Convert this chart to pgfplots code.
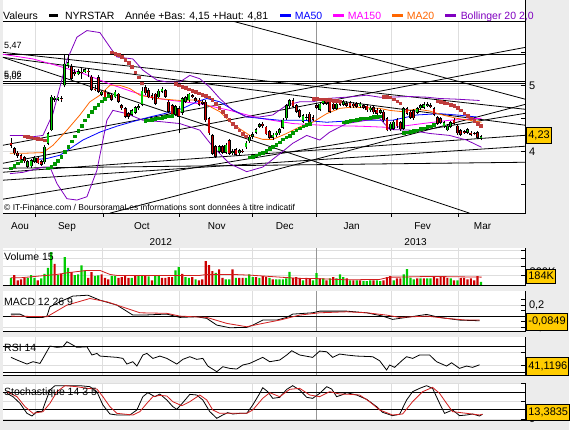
\documentclass[border=0pt]{standalone}
\usepackage{fontspec}
\setmainfont{Liberation Sans}
\usepackage{pgfplots}
\pgfplotsset{compat=1.18}
\usepackage{pgfplotstable}
\newcommand\fs[1]{\fontsize{#1}{#1}\selectfont}
\definecolor{bg}{RGB}{236,236,236}
\definecolor{gridgray}{RGB}{222,222,222}
\definecolor{yeargray}{RGB}{150,150,150}
\definecolor{cgreen}{RGB}{0,204,0}
\definecolor{cred}{RGB}{204,0,0}
\definecolor{sargreen}{RGB}{0,150,0}
\definecolor{sarred}{RGB}{190,60,60}
\definecolor{ma50}{RGB}{0,0,255}
\definecolor{ma150}{RGB}{255,0,255}
\definecolor{ma20}{RGB}{255,102,0}
\definecolor{boll}{RGB}{128,0,192}
\definecolor{gold}{RGB}{255,204,0}
\definecolor{sigred}{RGB}{210,30,30}

\pgfplotstableread{
i o h l c
0 4.13 4.20 4.05 4.08
1 4.05 4.07 3.94 3.97
2 3.98 4.00 3.90 3.93
3 3.94 3.96 3.86 3.88
4 3.91 3.93 3.82 3.85
5 3.76 3.87 3.74 3.85
6 3.77 3.88 3.75 3.86
7 3.84 3.93 3.82 3.90
8 3.90 3.92 3.80 3.82
9 3.85 3.87 3.77 3.79
10 3.83 4.09 3.81 4.07
11 4.11 4.29 4.09 4.27
12 4.32 4.86 4.30 4.83
13 4.78 4.84 4.75 4.81
14 4.78 4.83 4.76 4.81
15 4.80 4.84 4.75 4.79
16 5.00 5.48 4.97 5.33
17 5.30 5.46 5.27 5.35
18 5.29 5.33 5.08 5.10
19 5.20 5.25 5.14 5.17
20 5.17 5.24 5.15 5.21
21 5.20 5.28 5.10 5.19
22 5.20 5.26 5.18 5.24
23 5.22 5.25 5.12 5.21
24 5.13 5.15 4.91 4.93
25 4.95 5.00 4.91 4.93
26 5.12 5.16 4.88 4.90
27 4.86 4.92 4.84 4.90
28 4.90 4.93 4.80 4.82
29 4.83 4.90 4.81 4.88
30 4.86 4.89 4.76 4.78
31 4.82 4.93 4.80 4.90
32 4.87 4.89 4.73 4.75
33 4.70 4.72 4.63 4.65
34 4.65 4.67 4.50 4.52
35 4.58 4.60 4.49 4.52
36 4.55 4.64 4.53 4.62
37 4.58 4.69 4.56 4.67
38 4.65 4.71 4.63 4.68
39 4.70 4.98 4.68 4.92
40 4.97 5.00 4.86 4.88
41 4.93 4.96 4.80 4.82
42 4.85 4.88 4.78 4.80
43 4.87 4.89 4.70 4.72
44 4.82 4.94 4.80 4.92
45 4.90 4.98 4.88 4.95
46 4.93 4.95 4.81 4.83
47 4.75 4.77 4.58 4.60
48 4.70 4.72 4.53 4.55
49 4.55 4.70 4.53 4.68
50 4.65 4.68 4.27 4.52
51 4.58 4.82 4.55 4.80
52 4.75 4.84 4.73 4.82
53 4.77 4.89 4.75 4.87
54 4.85 4.87 4.80 4.82
55 4.80 4.82 4.74 4.76
56 4.78 4.80 4.68 4.70
57 4.75 4.77 4.70 4.72
58 4.75 4.77 4.45 4.47
59 4.50 4.52 4.25 4.27
60 4.24 4.26 3.94 3.96
61 4.08 4.10 3.90 3.92
62 3.99 4.10 3.97 4.08
63 4.08 4.10 3.96 3.98
64 3.98 4.12 3.96 4.10
65 4.17 4.19 3.94 3.96
66 3.97 4.03 3.95 4.00
67 4.03 4.05 3.93 3.95
68 3.97 4.04 3.95 4.02
69 4.00 4.03 3.97 3.99
70 4.06 4.15 4.04 4.13
71 4.15 4.24 4.13 4.22
72 4.22 4.29 4.19 4.26
73 4.28 4.35 4.26 4.33
74 4.37 4.43 4.35 4.41
75 4.42 4.44 4.36 4.38
76 4.37 4.39 4.24 4.26
77 4.30 4.32 4.18 4.20
78 4.20 4.27 4.17 4.25
79 4.24 4.30 4.22 4.28
80 4.27 4.35 4.25 4.33
81 4.36 4.50 4.34 4.48
82 4.50 4.72 4.48 4.70
83 4.68 4.79 4.66 4.77
84 4.77 4.80 4.65 4.67
85 4.70 4.72 4.58 4.60
86 4.62 4.64 4.50 4.52
87 4.45 4.57 4.43 4.55
88 4.50 4.56 4.48 4.52
89 4.57 4.60 4.42 4.44
90 4.52 4.55 4.46 4.48
91 4.70 4.73 4.64 4.66
92 4.63 4.74 4.61 4.72
93 4.72 4.80 4.70 4.77
94 4.77 4.80 4.70 4.72
95 4.77 4.79 4.58 4.60
96 4.72 4.74 4.62 4.64
97 4.64 4.74 4.62 4.72
98 4.75 4.77 4.68 4.70
99 4.70 4.77 4.68 4.75
100 4.73 4.76 4.67 4.69
101 4.74 4.76 4.65 4.67
102 4.72 4.74 4.66 4.68
103 4.73 4.75 4.65 4.67
104 4.68 4.74 4.66 4.72
105 4.70 4.72 4.64 4.66
106 4.69 4.71 4.60 4.62
107 4.62 4.68 4.60 4.66
108 4.67 4.69 4.57 4.59
109 4.63 4.65 4.55 4.57
110 4.58 4.64 4.56 4.62
111 4.60 4.62 4.45 4.47
112 4.50 4.52 4.30 4.32
113 4.33 4.44 4.31 4.42
114 4.34 4.47 4.32 4.45
115 4.48 4.50 4.36 4.38
116 4.44 4.46 4.31 4.33
117 4.34 4.67 4.32 4.65
118 4.65 4.67 4.55 4.57
119 4.60 4.62 4.49 4.51
120 4.62 4.64 4.48 4.50
121 4.58 4.67 4.56 4.65
122 4.65 4.72 4.63 4.70
123 4.66 4.75 4.64 4.71
124 4.69 4.74 4.67 4.71
125 4.70 4.73 4.65 4.67
126 4.65 4.67 4.53 4.55
127 4.52 4.54 4.40 4.42
128 4.50 4.52 4.41 4.43
129 4.38 4.46 4.36 4.44
130 4.32 4.41 4.30 4.39
131 4.37 4.46 4.35 4.44
132 4.48 4.50 4.40 4.42
133 4.39 4.41 4.25 4.27
134 4.32 4.34 4.23 4.25
135 4.30 4.32 4.26 4.28
136 4.28 4.35 4.26 4.33
137 4.28 4.30 4.23 4.25
138 4.27 4.29 4.24 4.26
139 4.29 4.31 4.18 4.20
140 4.19 4.25 4.17 4.23
}\candles

\pgfplotstableread{
i v g
0 7.3 1
1 10 0
2 4.7 0
3 5.7 0
4 7.3 0
5 7.3 1
6 10 1
7 7.3 1
8 4.7 0
9 6.7 1
10 11.3 1
11 17.3 1
12 33 1
13 21.3 0
14 10 1
15 11.3 0
16 28 1
17 17.3 1
18 13 0
19 10 1
20 10.7 1
21 19.7 1
22 14.7 1
23 7.3 0
24 13 0
25 9.3 1
26 9.7 1
27 10.7 0
28 7.3 0
29 5.7 0
30 9.3 1
31 9.3 1
32 7.3 0
33 8 0
34 9.3 0
35 7.3 0
36 7.3 1
37 9.3 0
38 9.3 1
39 9.3 1
40 9.3 0
41 8.7 1
42 4.7 0
43 9.3 1
44 10 1
45 7.3 0
46 7.3 0
47 8 0
48 8 0
49 14.7 1
50 18 1
51 11.3 0
52 8 1
53 7.3 1
54 8 0
55 5.7 1
56 4.7 0
57 5.7 0
58 24 0
59 20 0
60 14 0
61 12.3 1
62 15.7 0
63 7.3 0
64 5.7 1
65 5.7 1
66 15.7 0
67 7.3 1
68 7.3 0
69 7.3 0
70 7.3 1
71 10.7 1
72 8 1
73 8 0
74 7.3 1
75 9 0
76 8 0
77 7.3 1
78 5.7 0
79 5.7 1
80 5.7 1
81 5.7 1
82 6.7 1
83 13.3 1
84 7.3 0
85 8 0
86 7.3 0
87 4.7 1
88 7.3 0
89 6.7 0
90 4.7 1
91 12 1
92 6.7 0
93 6.7 1
94 4.7 0
95 6.7 1
96 8 0
97 6.7 1
98 10.7 1
99 8 1
100 6.7 0
101 4.7 1
102 4.7 0
103 4.7 1
104 4.7 0
105 4 1
106 4 1
107 4.7 1
108 4.7 0
109 4.7 1
110 4 1
111 4.7 0
112 8 0
113 9 0
114 4.7 1
115 6.7 0
116 6.7 0
117 10.7 1
118 16 1
119 7.3 1
120 5.7 1
121 6.7 0
122 6.7 1
123 6.7 0
124 6.7 1
125 6.7 1
126 8 0
127 6.7 0
128 8.7 0
129 8 0
130 7.3 0
131 6.7 1
132 4.7 0
133 4.7 1
134 7.3 0
135 7.3 0
136 5.7 0
137 6.7 0
138 4.7 0
139 9 0
140 3.3 1
}\vol

\pgfplotstableread{
i p
0 3.74
1 3.78
2 3.82
3 3.85
11 3.74
12 3.77
13 3.81
14 3.86
15 3.92
16 3.99
17 4.07
18 4.15
19 4.23
20 4.31
21 4.39
22 4.47
23 4.54
24 4.60
25 4.66
26 4.71
27 4.76
28 4.80
29 4.84
40 4.46
41 4.47
42 4.48
43 4.49
44 4.50
45 4.51
46 4.52
47 4.53
48 4.54
71 3.91
72 3.92
73 3.94
74 3.96
75 3.98
76 4.01
77 4.04
78 4.07
79 4.10
80 4.14
81 4.18
82 4.21
83 4.24
84 4.28
85 4.32
86 4.35
87 4.38
88 4.40
89 4.42
99 4.44
100 4.45
101 4.46
102 4.47
103 4.48
104 4.49
105 4.50
106 4.50
107 4.51
108 4.52
109 4.52
110 4.53
117 4.28
118 4.29
119 4.30
120 4.31
121 4.32
122 4.34
123 4.35
124 4.37
125 4.38
126 4.40
}\sarg

\pgfplotstableread{
i p
4 4.23
5 4.22
6 4.21
7 4.20
8 4.19
9 4.18
10 4.17
30 5.50
31 5.48
32 5.46
33 5.43
34 5.39
35 5.34
36 5.28
37 5.20
38 5.12
39 5.03
49 5.02
50 5.00
51 4.98
52 4.96
53 4.94
54 4.92
55 4.90
56 4.88
57 4.86
58 4.84
59 4.82
60 4.78
61 4.72
62 4.66
63 4.60
64 4.54
65 4.48
66 4.42
67 4.37
68 4.32
69 4.27
70 4.23
90 4.80
91 4.80
92 4.79
93 4.79
94 4.78
95 4.78
96 4.77
97 4.77
98 4.76
111 4.83
112 4.83
113 4.82
114 4.79
115 4.76
116 4.73
127 4.76
128 4.75
129 4.74
130 4.73
131 4.71
132 4.69
133 4.66
134 4.62
135 4.58
136 4.54
137 4.50
138 4.46
139 4.42
140 4.39
}\sarr

\pgfplotsset{
 panel/.style={
  scale only axis, anchor=south west, width=523pt,
  xmin=3, xmax=526, clip=true,
  axis line style={draw=none},
  xtick={35,103,180,253,392,459}, xticklabels={},
  extra x ticks={317}, extra x tick labels={},
  extra x tick style={major tick length=0pt, major grid style={draw=yeargray, line width=0.8pt}},
  xtick style={draw=none},
  xmajorgrids, ymajorgrids,
  major grid style={draw=gridgray, line width=0.8pt},
  ytick pos=right, yticklabel pos=right, tick align=inside,
  major tick length=4pt, minor tick length=4pt,
  ytick style={draw=black, line width=0.8pt},
  tick label style={font=\fs{11}},
 },
 tl/.style={black, line width=0.8pt},
}

\begin{document}
\begin{tikzpicture}
\fill[bg] (0pt,0pt) rectangle (570pt,430pt);
\fill[white] (3pt,216.5pt) rectangle (526pt,430pt);
\fill[white] (3pt,145pt) rectangle (526pt,182pt);
\fill[white] (3pt,99pt) rectangle (526pt,139pt);
\fill[white] (3pt,55pt) rectangle (526pt,93pt);
\fill[white] (3pt,10pt) rectangle (526pt,47pt);

% ---------------- main price panel
\begin{axis}[panel, at={(3pt,216.5pt)}, height=192.5pt, ymin=3.053, ymax=5.9697,
  ytick={4,5}, yticklabels={4,5}, minor ytick={3.5,4.5,5.5}]
\addplot[tl] coordinates {(230,5.985) (526,4.788)};
\addplot[tl] coordinates {(3,5.424) (470,3.061)};
\addplot[tl] coordinates {(110,3.061) (526,4.712)};
\addplot[tl] coordinates {(3,3.273) (526,4.576)};
\addplot[tl] coordinates {(3,3.742) (526,3.833)};
\addplot[tl] coordinates {(3,4.091) (526,5.576)};
\addplot[tl] coordinates {(3,3.682) (526,4.242)};
\addplot[tl] coordinates {(3,3.561) (526,4.076)};
\addplot[tl] coordinates {(3,5.50) (526,4.636)};
\addplot[tl] coordinates {(3,5.424) (526,4.394)};
\addplot[tl] coordinates {(3,3.818) (526,5.333)};
\addplot[black, line width=1pt] coordinates {(3,5.47) (526,5.47)};
\addplot[black, line width=1pt] coordinates {(3,5.06) (526,5.06)};
\addplot[black, line width=1pt] coordinates {(3,5.02) (526,5.02)};
\addplot[ma150, line width=0.8pt] coordinates {(3,5.47)(33,5.4)(57,5.3)(83,5.18)(110,5.02)(133,4.9)(150,4.82)(167,4.78)(200,4.72)(230,4.62)(260,4.5)(293,4.42)(327,4.39)(360,4.38)(393,4.36)(423,4.42)(450,4.47)(482,4.5)};
\addplot[ma50, line width=0.8pt] coordinates {(33,3.87)(47,3.89)(60,3.94)(70,4.04)(83,4.17)(100,4.29)(117,4.38)(133,4.45)(150,4.52)(167,4.58)(183,4.65)(197,4.75)(207,4.8)(220,4.75)(233,4.63)(247,4.52)(260,4.5)(280,4.47)(303,4.47)(327,4.44)(360,4.47)(393,4.47)(417,4.55)(440,4.57)(457,4.55)(477,4.52)};
\addplot[ma20, line width=0.8pt] coordinates {(10,3.97)(25,3.97)(43,3.98)(53,4.09)(67,4.32)(80,4.55)(90,4.75)(100,4.85)(110,5.0)(120,5.0)(130,4.95)(140,4.85)(157,4.8)(180,4.77)(197,4.78)(210,4.68)(220,4.6)(230,4.45)(240,4.34)(250,4.24)(263,4.18)(273,4.18)(287,4.27)(300,4.37)(313,4.44)(327,4.57)(340,4.65)(353,4.67)(380,4.65)(390,4.62)(403,4.6)(417,4.64)(430,4.61)(443,4.55)(457,4.5)(470,4.47)(482,4.44)};
\addplot[boll, line width=0.8pt] coordinates {(10,4.24)(23,4.24)(33,4.22)(43,4.24)(53,4.57)(67,5.38)(77,5.73)(87,5.83)(100,5.8)(110,5.58)(117,5.43)(133,5.4)(143,5.23)(157,5.08)(167,5.05)(180,5.05)(190,5.15)(200,5.1)(210,4.97)(220,4.8)(233,4.62)(247,4.52)(260,4.52)(273,4.55)(287,4.7)(300,4.75)(313,4.75)(327,4.8)(347,4.82)(367,4.85)(380,4.82)(390,4.82)(410,4.83)(427,4.82)(440,4.8)(457,4.79)(480,4.77)};
\addplot[boll, line width=0.8pt] coordinates {(10,3.66)(23,3.68)(43,3.76)(50,3.76)(57,3.51)(67,3.28)(77,3.26)(87,3.31)(97,3.71)(107,4.47)(113,4.62)(127,4.57)(143,4.47)(160,4.45)(180,4.42)(200,4.32)(213,4.07)(230,3.81)(247,3.69)(263,3.76)(280,3.96)(293,4.12)(307,4.24)(320,4.17)(330,4.29)(347,4.42)(367,4.47)(380,4.5)(390,4.33)(410,4.32)(430,4.27)(450,4.24)(467,4.17)(482,4.06)};
\addplot[only marks, mark=square*, mark size=1.3pt, color=sargreen] table[x expr=11+3.36*\thisrow{i}, y=p]{\sarg};
\addplot[only marks, mark=square*, mark size=1.3pt, color=sarred] table[x expr=11+3.36*\thisrow{i}, y=p]{\sarr};
\addplot[black, line width=0.6pt, quiver={u=0, v={\thisrow{h}-\thisrow{l}}}] table[x expr=11+3.36*\thisrow{i}, y=l]{\candles};
\addplot[black, line width=2.8pt, quiver={u=0, v={abs(\thisrow{c}-\thisrow{o})}}] table[x expr=11+3.36*\thisrow{i}, y expr={min(\thisrow{o},\thisrow{c})}]{\candles};
\addplot[cgreen, line width=1.4pt, quiver={u=0, v={abs(\thisrow{c}-\thisrow{o})-0.018}}, restrict expr to domain={\thisrow{c}-\thisrow{o}}{0:10}] table[x expr=11+3.36*\thisrow{i}, y expr={min(\thisrow{o},\thisrow{c})+0.009}]{\candles};
\addplot[cred, line width=1.4pt, quiver={u=0, v={abs(\thisrow{c}-\thisrow{o})-0.018}}, restrict expr to domain={\thisrow{c}-\thisrow{o}}{-10:-0.0001}] table[x expr=11+3.36*\thisrow{i}, y expr={min(\thisrow{o},\thisrow{c})+0.009}]{\candles};
\end{axis}

% ---------------- volume panel
\begin{axis}[panel, at={(3pt,145pt)}, height=37pt, ymin=0, ymax=37,
  ytick={10,18.3,26.6,35}, yticklabels={,,,}]
\addplot[ybar, bar width=2.2pt, bar shift=0pt, draw=none, fill=cgreen, restrict expr to domain={\thisrow{g}}{0.5:1.5}] table[x expr=11+3.36*\thisrow{i}, y=v]{\vol};
\addplot[ybar, bar width=2.2pt, bar shift=0pt, draw=none, fill=cred, restrict expr to domain={\thisrow{g}}{-0.5:0.5}] table[x expr=11+3.36*\thisrow{i}, y=v]{\vol};
\addplot[sigred, line width=0.8pt] coordinates {(11,7.3)(20,7.3)(57,10.7)(67,12.3)(87,14.7)(100,14.7)(110,10.7)(117,9.7)(200,9.7)(207,10.7)(233,10.7)(250,10)(280,8)(300,6.7)(313,6.7)(347,5.3)(380,5.7)(390,8)(400,8)(430,8.7)(482,8)};
\end{axis}

% ---------------- MACD panel
\begin{axis}[panel, at={(3pt,99pt)}, height=40pt, ymin=-0.2727, ymax=0.4545,
  ytick={-0.2,0.2}, yticklabels={{-0,2},{0,2}}, minor ytick={-0.1,0.1,0.3}]
\addplot[black, line width=1pt] coordinates {(3,0) (526,0)};
\addplot[black, line width=0.8pt] coordinates {(11,0.036)(20,0.036)(27,-0.024)(43,-0.024)(47,0)(50,0.17)(60,0.26)(73,0.364)(88,0.38)(100,0.29)(117,0.2)(133,0.018)(143,0.018)(167,0.036)(180,-0.024)(197,-0.012)(207,-0.042)(217,-0.164)(230,-0.212)(247,-0.206)(253,-0.164)(263,-0.073)(277,-0.073)(287,-0.024)(293,0.036)(313,0.06)(320,0.09)(347,0.09)(367,0.06)(383,0)(393,-0.06)(407,-0.024)(427,0.03)(440,-0.024)(460,-0.073)(480,-0.085)};
\addplot[sigred, line width=0.8pt] coordinates {(11,0)(47,-0.012)(67,0.2)(90,0.32)(107,0.26)(127,0.14)(140,0.06)(167,0.05)(180,0)(207,-0.024)(227,-0.133)(247,-0.194)(263,-0.133)(280,-0.073)(300,0.018)(320,0.06)(347,0.078)(367,0.06)(387,0.018)(400,-0.024)(427,0)(447,-0.042)(467,-0.073)(480,-0.073)};
\end{axis}

% ---------------- RSI panel
\begin{axis}[panel, at={(3pt,55pt)}, height=38pt, ymin=25.385, ymax=83.846,
  ytick={40,60}, yticklabels={,}]
\addplot[black, line width=1pt] coordinates {(3,70) (526,70)};
\addplot[black, line width=1pt] coordinates {(3,30) (526,30)};
\addplot[black, line width=0.8pt] coordinates {(11,52.6)(17,48.5)(27,42.3)(33,45.9)(40,43.3)(43,51.0)(50,70)(57,68)(63,68.9)(67,76.6)(70,74.1)(77,68)(87,68.9)(92,56.2)(97,58.7)(100,54.6)(117,52.6)(123,51)(127,42.3)(133,45.9)(137,39.2)(143,56.2)(147,58.7)(153,51)(160,54.6)(167,51)(177,42.3)(183,49.5)(190,53.6)(197,49.5)(203,51)(208,39.2)(217,30.5)(223,38.2)(230,35.6)(237,34.6)(243,40.8)(250,43.3)(263,52.6)(270,45.9)(280,48.5)(287,56.2)(292,62.8)(300,56.2)(313,52.6)(320,62.3)(327,61.2)(333,52.6)(340,57.7)(347,56.2)(357,54.6)(373,53.6)(380,47.4)(387,33.1)(390,40.8)(395,37.2)(403,48.5)(407,53.6)(413,51)(420,56.2)(430,56.2)(437,45.9)(447,39.2)(452,44.3)(460,35.6)(467,39.2)(473,37.2)(480,41.1)};
\end{axis}

% ---------------- Stochastic panel
\begin{axis}[panel, at={(3pt,10pt)}, height=37pt, ymin=-2.778, ymax=100,
  ytick={0,50,100}, yticklabels={0,,}]
\addplot[black, line width=1pt] coordinates {(3,75) (526,75)};
\addplot[black, line width=1pt] coordinates {(3,25) (526,25)};
\addplot[black, line width=0.8pt] coordinates {(7,71.3)(13,62)(20,43.5)(27,15.7)(32,8.3)(37,20.4)(42,20.4)(45,43.5)(50,80.6)(55,92.6)(67,92.6)(80,92.6)(90,89.8)(97,75.9)(103,38.9)(110,13.9)(117,11.1)(130,11.1)(137,25)(143,62)(148,73.1)(155,62)(160,69.4)(167,52.8)(173,34.3)(177,26.9)(183,45.4)(190,68.5)(197,66.7)(203,52.8)(210,20.4)(217,1.9)(223,11.1)(228,17.6)(233,13.9)(240,15.7)(247,15.7)(253,38.9)(260,71.3)(263,87)(268,75.9)(273,57.4)(280,60.2)(287,82.4)(293,92.6)(300,80.6)(307,60.2)(313,57.4)(320,71.3)(327,89.8)(332,83.3)(337,62)(342,66.7)(347,73.1)(357,66.7)(367,54.6)(377,34.3)(383,18.5)(393,9.3)(400,13)(407,52.8)(413,75.9)(420,85.2)(427,92.6)(433,85.2)(440,43.5)(445,15.7)(453,25)(460,9.3)(467,11.1)(473,13.9)(480,8.3)(483,13.4)};
\addplot[sigred, line width=0.8pt] coordinates {(7,75.9)(17,62)(25,34.3)(33,15.7)(43,20.4)(50,43.5)(57,75.9)(65,92.6)(77,89.8)(87,85.2)(97,83.3)(103,62)(110,34.3)(117,15.7)(133,11.1)(140,20.4)(147,43.5)(153,62)(160,65.7)(167,63.9)(173,48.1)(182,37)(190,48.1)(200,66.7)(207,52.8)(213,25)(220,15.7)(247,15.7)(253,25)(263,57.4)(270,73.1)(280,62)(290,82.4)(300,85.2)(310,66.7)(320,62)(330,75.9)(340,69.4)(350,68.5)(360,66.7)(370,48.1)(380,25)(393,11.1)(403,13.9)(413,48.1)(423,75.9)(433,87.9)(440,71.3)(447,43.5)(453,20.4)(467,15.7)(480,11.1)(483,13.4)};
\end{axis}

% ---------------- borders
\draw[black, line width=0.8pt] (3pt,409pt) -- (526pt,409pt);
\draw[black, line width=0.8pt] (526pt,430pt) -- (526pt,216.5pt) -- (3pt,216.5pt);
\foreach \xx in {35,103,180,253,317,392,459} \draw[black, line width=0.8pt] (\xx pt,216.5pt) -- (\xx pt,213pt);
\draw[black, line width=0.8pt] (526pt,182pt) -- (526pt,145pt) -- (3pt,145pt);
\draw[black, line width=0.8pt] (526pt,139pt) -- (526pt,99pt) -- (3pt,99pt);
\draw[black, line width=0.8pt] (526pt,93pt) -- (526pt,55pt) -- (3pt,55pt);
\draw[black, line width=0.8pt] (526pt,47pt) -- (526pt,10pt) -- (3pt,10pt);

% ---------------- legend row
\node[anchor=base west, inner sep=0pt] at (3pt,411pt) {\fs{10.5}Valeurs};
\fill[black] (49pt,413pt) rectangle (58pt,416.5pt);
\node[anchor=base west, inner sep=0pt] at (65pt,411pt) {\fs{10.5}NYRSTAR};
\node[anchor=base west, inner sep=0pt] at (125pt,411pt) {\fs{10.5}Année +Bas: 4,15 +Haut: 4,81};
\fill[ma50] (280pt,413pt) rectangle (291pt,416.5pt);
\node[anchor=base west, inner sep=0pt, text=ma50] at (295pt,411pt) {\fs{10.5}MA50};
\fill[ma150] (333pt,413pt) rectangle (344pt,416.5pt);
\node[anchor=base west, inner sep=0pt, text=ma150] at (348pt,411pt) {\fs{10.5}MA150};
\fill[ma20] (392pt,413pt) rectangle (403pt,416.5pt);
\node[anchor=base west, inner sep=0pt, text=ma20] at (407pt,411pt) {\fs{10.5}MA20};
\fill[boll] (445pt,413pt) rectangle (456pt,416.5pt);
\node[anchor=base west, inner sep=0pt, text=boll] at (461pt,411pt) {\fs{10.5}Bollinger 20 2,0};

% ---------------- texts in main panel
\node[anchor=base west, inner sep=0pt] at (4pt,381.5pt) {\fs{9}5,47};
\node[anchor=base west, inner sep=0pt] at (4pt,353pt) {\fs{9}5,06};
\node[anchor=base west, inner sep=0pt] at (4pt,351pt) {\fs{9}5,02};
\node[anchor=base west, inner sep=0pt] at (4pt,220pt) {\fs{8.5}© IT-Finance.com / BoursoramaLes informations sont données à titre indicatif};

\foreach \xx/\mm in {20/Aou,67/Sep,142/Oct,217/Nov,285/Dec,352/Jan,423/Fev,483/Mar}
  \node[anchor=base, inner sep=0pt] at (\xx pt,201pt) {\fs{10}\mm};
\node[anchor=base, inner sep=0pt] at (161pt,184.5pt) {\fs{10}2012};
\node[anchor=base, inner sep=0pt] at (416pt,184.5pt) {\fs{10}2013};

\node[anchor=west, inner sep=0pt] at (4pt,173.5pt) {\fs{10.5}Volume 15};
\node[anchor=west, inner sep=0pt] at (4pt,128.5pt) {\fs{10.5}MACD 12 26 9};
\node[anchor=west, inner sep=0pt] at (4pt,82pt) {\fs{10.5}RSI 14};
\node[anchor=west, inner sep=0pt] at (4pt,37pt) {\fs{10.5}Stochastique 14 3 5};

% partly hidden volume scale label, then the value boxes over it
\node[anchor=west, inner sep=0pt] at (530pt,158.5pt) {\fs{11}300K};
\tikzset{vbox/.style={fill=gold, draw=black, line width=0.8pt, anchor=west, inner sep=1.5pt, minimum height=16pt}}
\node[vbox] at (527pt,295pt) {\fs{11}4,23};
\node[vbox, minimum height=14pt] at (527pt,154pt) {\fs{11}184K};
\node[vbox, minimum height=17pt] at (527pt,108.5pt) {\fs{11}-0,0849};
\node[vbox, minimum height=18pt] at (527pt,64pt) {\fs{11}41,1196};
\node[vbox] at (527pt,18pt) {\fs{11}13,3835};
\end{tikzpicture}
\end{document}
